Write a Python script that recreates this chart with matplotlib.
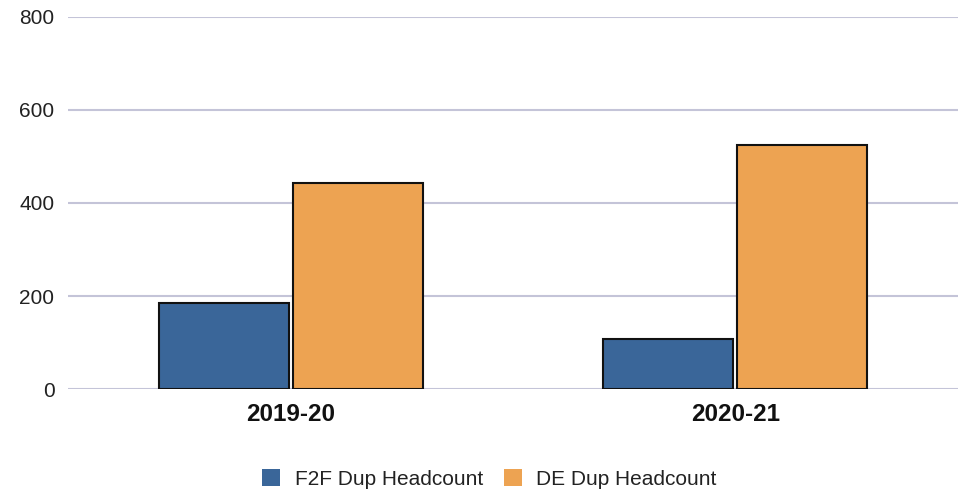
import matplotlib
matplotlib.use("Agg")
import matplotlib.pyplot as plt
import numpy as np

categories = ["2019-20", "2020-21"]
series_names = ["F2F Dup Headcount", "DE Dup Headcount"]
f2f_values = [185, 107]
de_values = [442, 524]
yticks = [0, 200, 400, 600, 800]

colors = ["#3a6699", "#eda352"]

plt.rcParams['font.family'] = ['Liberation Sans', 'DejaVu Sans']

fig = plt.figure(figsize=(9.68, 4.9), dpi=100)
ax = fig.add_axes([0.0706, 0.2055, 0.9186, 0.7605])

x = np.arange(len(categories))
w = 0.2925
gap = 0.009
b1 = ax.bar(x - w/2 - gap/2, f2f_values, w, color=colors[0], edgecolor="#111111",
            linewidth=1.5, label=series_names[0], zorder=3)
b2 = ax.bar(x + w/2 + gap/2, de_values, w, color=colors[1], edgecolor="#111111",
            linewidth=1.5, label=series_names[1], zorder=3)

ax.set_xlim(-0.5, 1.5)
ax.set_ylim(0, 800)
ax.set_yticks(yticks)
ax.set_yticklabels([str(t) for t in yticks], fontsize=15, color="#222222")
ax.set_xticks(x)
ax.set_xticklabels(categories, fontsize=17.5, fontweight="bold", color="#111111")
ax.tick_params(axis="both", length=0)
ax.tick_params(axis="y", pad=10)
ax.tick_params(axis="x", pad=10)
for s in ax.spines.values():
    s.set_visible(False)
ax.yaxis.grid(True, color="#c4c4d8", linewidth=1.5, zorder=0)
ax.set_axisbelow(True)

fig.legend(handles=[b1, b2], labels=series_names, loc="center",
           bbox_to_anchor=(0.5057, 1 - 479/490), ncol=2, frameon=False,
           fontsize=15, handlelength=0.85, handleheight=0.85,
           handletextpad=0.7, columnspacing=1.0, labelcolor="#222222")
for h in fig.legends[0].legend_handles:
    h.set_edgecolor("none")

fig.savefig("out.png", dpi=100)
